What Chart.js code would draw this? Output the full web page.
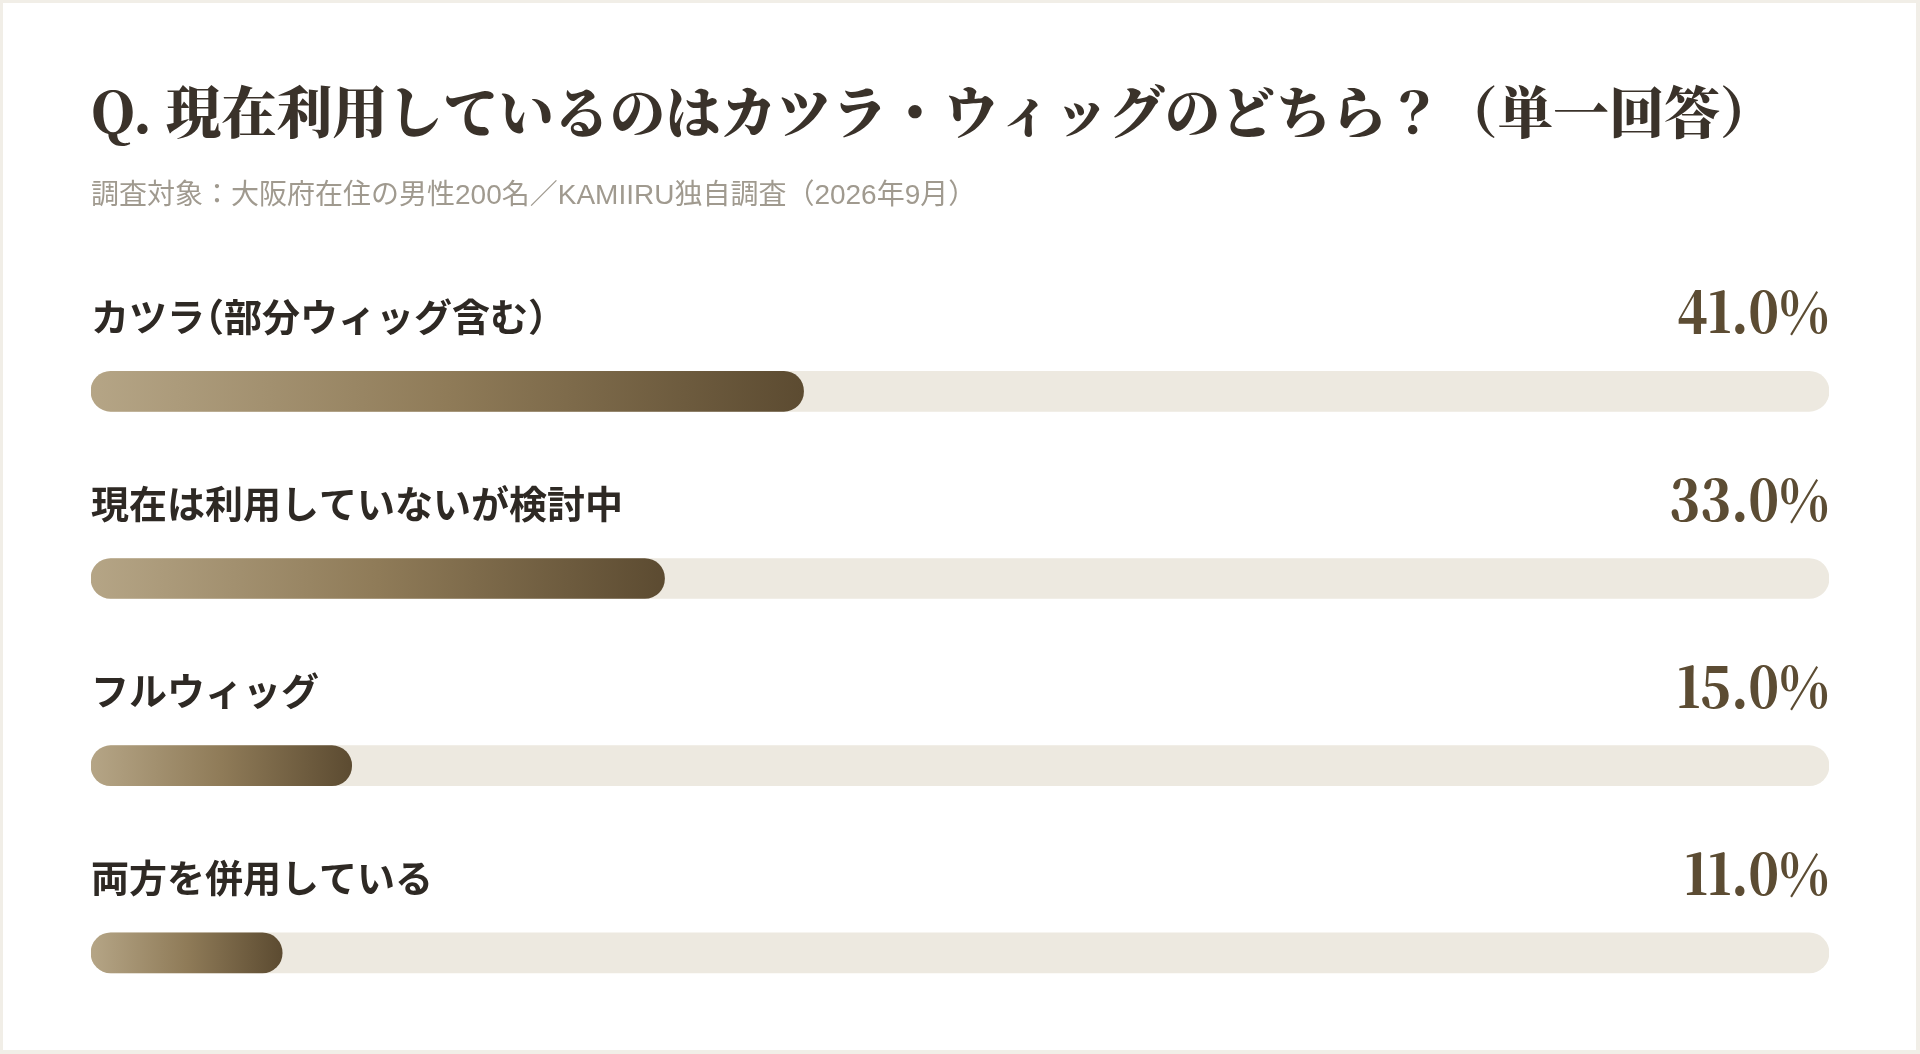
<!DOCTYPE html>
<html lang="ja">
<head>
<meta charset="utf-8">
<title>現在利用しているのはカツラ・ウィッグのどちら？</title>
<script src="https://cdn.jsdelivr.net/npm/chart.js@4.4.1/dist/chart.umd.min.js"></script>
<style>
  html, body { margin: 0; padding: 0; background: #f1eee7; }
  body { width: 1920px; height: 1054px; position: relative; overflow: hidden; }
  .card { position: absolute; left: 3px; top: 3px; width: 1913px; height: 1047px; background: #ffffff; }
  #chart { position: absolute; left: 0; top: 0; }
</style>
</head>
<body>
<div class="card"></div>
<canvas id="chart" width="1920" height="1054"></canvas>
<script>
const titleText = "Q. 現在利用しているのはカツラ・ウィッグのどちら？（単一回答）";
const subtitleText = "調査対象：大阪府在住の男性200名／KAMIIRU独自調査（2026年9月）";
const categories = ["カツラ（部分ウィッグ含む）", "現在は利用していないが検討中", "フルウィッグ", "両方を併用している"];
const shares = [41.0, 33.0, 15.0, 11.0];
const scaleMax = 100;
const track = categories.map(() => scaleMax);

const sansJP = '"Noto Sans CJK JP", "Noto Sans", sans-serif';
const subFont = '"Liberation Sans", "Noto Sans CJK JP", sans-serif';
const serifJP = '"Noto Serif CJK JP", "Liberation Serif", "Noto Sans CJK JP", serif';

// gradient runs along each filled bar, light on the left, dark at the tip
function barGradient(context) {
    const chart = context.chart;
    if (!chart.chartArea) return "#8e7a57";
    const x = chart.scales.x;
    const x0 = x.getPixelForValue(0);
    const x1 = x.getPixelForValue(context.raw || 0);
    const g = chart.ctx.createLinearGradient(x0, 0, Math.max(x1, x0 + 1), 0);
    g.addColorStop(0, "#b5a586");
    g.addColorStop(0.5, "#8f7b58");
    g.addColorStop(1, "#5c4b31");
    return g;
}

// full-width brackets drawn half-width, like palt
function drawTight(ctx, text, x, y, em) {
    for (const ch of text) {
        if (ch === "（") {
            ctx.fillText(ch, x - em / 2, y);
            x += em / 2;
        } else if (ch === "）") {
            ctx.fillText(ch, x, y);
            x += em / 2;
        } else {
            ctx.fillText(ch, x, y);
            x += ctx.measureText(ch).width;
        }
    }
}

const rowLabels = {
    id: "rowLabels",
    afterDatasetsDraw(chart) {
        const ctx = chart.ctx;
        const y = chart.scales.y;
        const left = chart.chartArea.left;
        const right = chart.chartArea.right;
        ctx.save();
        categories.forEach((name, i) => {
            const cy = y.getPixelForValue(i);
            ctx.font = "bold 38px " + sansJP;
            ctx.fillStyle = "#2e2924";
            ctx.textAlign = "left";
            ctx.textBaseline = "middle";
            drawTight(ctx, name, left, cy - 75, 38);

            // value, a touch condensed
            ctx.save();
            ctx.translate(right, cy - 58);
            ctx.scale(0.9, 1);
            ctx.font = "900 56px " + serifJP;
            ctx.fillStyle = "#5c4c33";
            ctx.textAlign = "right";
            ctx.textBaseline = "alphabetic";
            ctx.fillText(shares[i].toFixed(1) + "%", 0, 0);
            ctx.restore();
        });
        ctx.restore();
    }
};

new Chart(document.getElementById("chart").getContext("2d"), {
    type: "bar",
    data: {
        labels: categories,
        datasets: [
            {
                label: "回答率",
                data: shares,
                backgroundColor: barGradient,
                borderRadius: 20,
                borderSkipped: false,
                barThickness: 40,
                grouped: false,
                order: 1,
            },
            {
                label: "track",
                data: track,
                backgroundColor: "#ede9e0",
                borderRadius: 20,
                borderSkipped: false,
                barThickness: 40,
                grouped: false,
                order: 2,
            },
        ],
    },
    options: {
        indexAxis: "y",
        responsive: false,
        animation: false,
        devicePixelRatio: 1,
        layout: {
            padding: { left: 91, right: 91, top: 0, bottom: 7.5 },
        },
        scales: {
            x: { min: 0, max: scaleMax, display: false },
            y: { display: false },
        },
        plugins: {
            legend: { display: false },
            tooltip: { enabled: false },
            title: {
                display: true,
                text: titleText,
                align: "start",
                color: "#3a322a",
                font: { family: serifJP, size: 55.5, weight: "900", lineHeight: 1.2 },
                padding: { top: 79, bottom: 34 },
            },
            subtitle: {
                display: true,
                text: subtitleText,
                align: "start",
                color: "#a09a8f",
                font: { family: subFont, size: 28, weight: "normal", lineHeight: 1.2 },
                padding: { top: 0, bottom: 84.5 },
            },
        },
    },
    plugins: [rowLabels],
});
</script>
</body>
</html>
